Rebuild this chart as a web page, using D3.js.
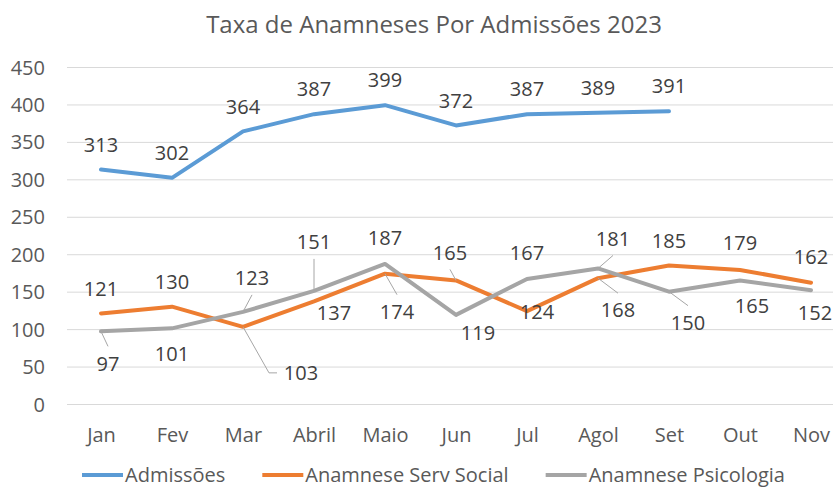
<!DOCTYPE html>
<html>
<head>
<meta charset="utf-8">
<script src="https://cdn.jsdelivr.net/npm/d3@7"></script>
<style>
  html, body { margin: 0; padding: 0; background: #fff; overflow: hidden; }
  svg { display: block; font-family: "Open Sans", sans-serif; }
</style>
</head>
<body>
<svg id="chart" width="833" height="489"></svg>
<script>
// ---- data ----
const months = ["Jan", "Fev", "Mar", "Abril", "Maio", "Jun", "Jul", "Agol", "Set", "Out", "Nov"];
const admissoes = [313, 302, 364, 387, 399, 372, 387, 389, 391, null, null];
const servSocial = [121, 130, 103, 137, 174, 165, 124, 168, 185, 179, 162];
const psicologia = [97, 101, 123, 151, 187, 119, 167, 181, 150, 165, 152];
const yTicks = [0, 50, 100, 150, 200, 250, 300, 350, 400, 450];
const seriesNames = ["Admissões", "Anamnese Serv Social", "Anamnese Psicologia"];
const titleText = "Taxa de Anamneses Por Admissões 2023";

// ---- label placement (px offsets of label centre from its point; leader: 0 none, 1 straight, 2 elbow) ----
const admLabelOffsets = months.map(() => [0, -25]);
const admLeaders = months.map(() => 0);
const ssLabelOffsets = [[0,-25],[0,-25],[58,46],[20,11],[12,38],[-6,-28],[10,1],[20,32],[0,-25],[0,-27],[0,-26]];
const ssLeaders = [0,0,2,0,1,1,0,1,0,0,0];
const psiLabelOffsets = [[7,32],[0,25],[9,-34],[0,-49],[0,-26],[22,18],[0,-26],[15,-30],[19,31],[12,25],[4,23]];
const psiLeaders = [1,0,1,1,0,0,0,1,1,0,0];

const colors = ["#5b9bd5", "#ed7d31", "#a5a5a5"];

const svg = d3.select("#chart");
const x = d3.scalePoint().domain(months).range([65.5, 846.5]).padding(0.5);
const y = d3.scaleLinear().domain([0, 450]).range([404, 67]);

// title
svg.append("text")
  .attr("x", 434).attr("y", 33)
  .attr("text-anchor", "middle")
  .attr("font-size", 24)
  .attr("fill", "#595959")
  .text(titleText);

// gridlines + y axis
const yAxis = d3.axisLeft(y).tickValues(yTicks).tickSize(-(833 - 67)).tickPadding(22);
const gy = svg.append("g").attr("transform", "translate(67,0)").call(yAxis);
gy.select(".domain").remove();
gy.selectAll(".tick line").attr("stroke", "#d9d9d9").attr("stroke-width", 1);
gy.selectAll(".tick text").attr("font-size", 20).attr("fill", "#595959")
  .attr("font-family", "Open Sans, sans-serif").attr("dy", "0.35em");

// x axis
const xAxis = d3.axisBottom(x).tickSize(0).tickPadding(0);
const gx = svg.append("g").attr("transform", "translate(0,424)").call(xAxis);
gx.select(".domain").remove();
gx.selectAll(".tick text").attr("font-size", 20).attr("fill", "#595959")
  .attr("font-family", "Open Sans, sans-serif").attr("dy", "0.9em");

// lines
const allSeries = [
  { values: admissoes, color: colors[0], offs: admLabelOffsets, leaders: admLeaders },
  { values: servSocial, color: colors[1], offs: ssLabelOffsets, leaders: ssLeaders },
  { values: psicologia, color: colors[2], offs: psiLabelOffsets, leaders: psiLeaders }
];
const line = d3.line()
  .defined(d => d.v != null)
  .x(d => x(d.m)).y(d => y(d.v));

allSeries.forEach(s => {
  const pts = months.map((m, i) => ({ m, v: s.values[i] }));
  svg.append("path").datum(pts)
    .attr("d", line)
    .attr("fill", "none")
    .attr("stroke", s.color)
    .attr("stroke-width", 4)
    .attr("stroke-linejoin", "round")
    .attr("stroke-linecap", "round");
});

// leader lines + labels
const labelG = svg.append("g");
allSeries.forEach(s => {
  months.forEach((m, i) => {
    const v = s.values[i];
    if (v == null) return;
    const px = x(m), py = y(v);
    const [dx, dy] = s.offs[i];
    const cx = px + dx, cy = py + dy;
    const lead = s.leaders[i];
    if (lead === 1) {
      const ey = dy > 0 ? cy - 17 : cy + 17;
      labelG.append("line")
        .attr("x1", px).attr("y1", py).attr("x2", cx).attr("y2", ey)
        .attr("stroke", "#a6a6a6").attr("stroke-width", 1);
    } else if (lead === 2) {
      const ex = dx > 0 ? cx - 24 : cx + 24;
      const kx = dx > 0 ? ex - 8 : ex + 8;
      labelG.append("polyline")
        .attr("points", `${px},${py} ${kx},${cy} ${ex},${cy}`)
        .attr("fill", "none")
        .attr("stroke", "#a6a6a6").attr("stroke-width", 1);
    }
    labelG.append("text")
      .attr("x", cx).attr("y", cy)
      .attr("dy", "0.36em")
      .attr("text-anchor", "middle")
      .attr("font-size", 20)
      .attr("fill", "#404040")
      .text(v);
  });
});

// legend
const legend = svg.append("g");
const legendY = 475;
let lx = 82;
seriesNames.forEach((name, i) => {
  legend.append("line")
    .attr("x1", lx).attr("x2", lx + 41)
    .attr("y1", legendY).attr("y2", legendY)
    .attr("stroke", colors[i]).attr("stroke-width", 4);
  const t = legend.append("text")
    .attr("x", lx + 43).attr("y", legendY)
    .attr("dy", "0.36em")
    .attr("font-size", 20)
    .attr("fill", "#595959")
    .text(name);
  lx = lx + 43 + t.node().getComputedTextLength() + 37;
});
</script>
</body>
</html>
